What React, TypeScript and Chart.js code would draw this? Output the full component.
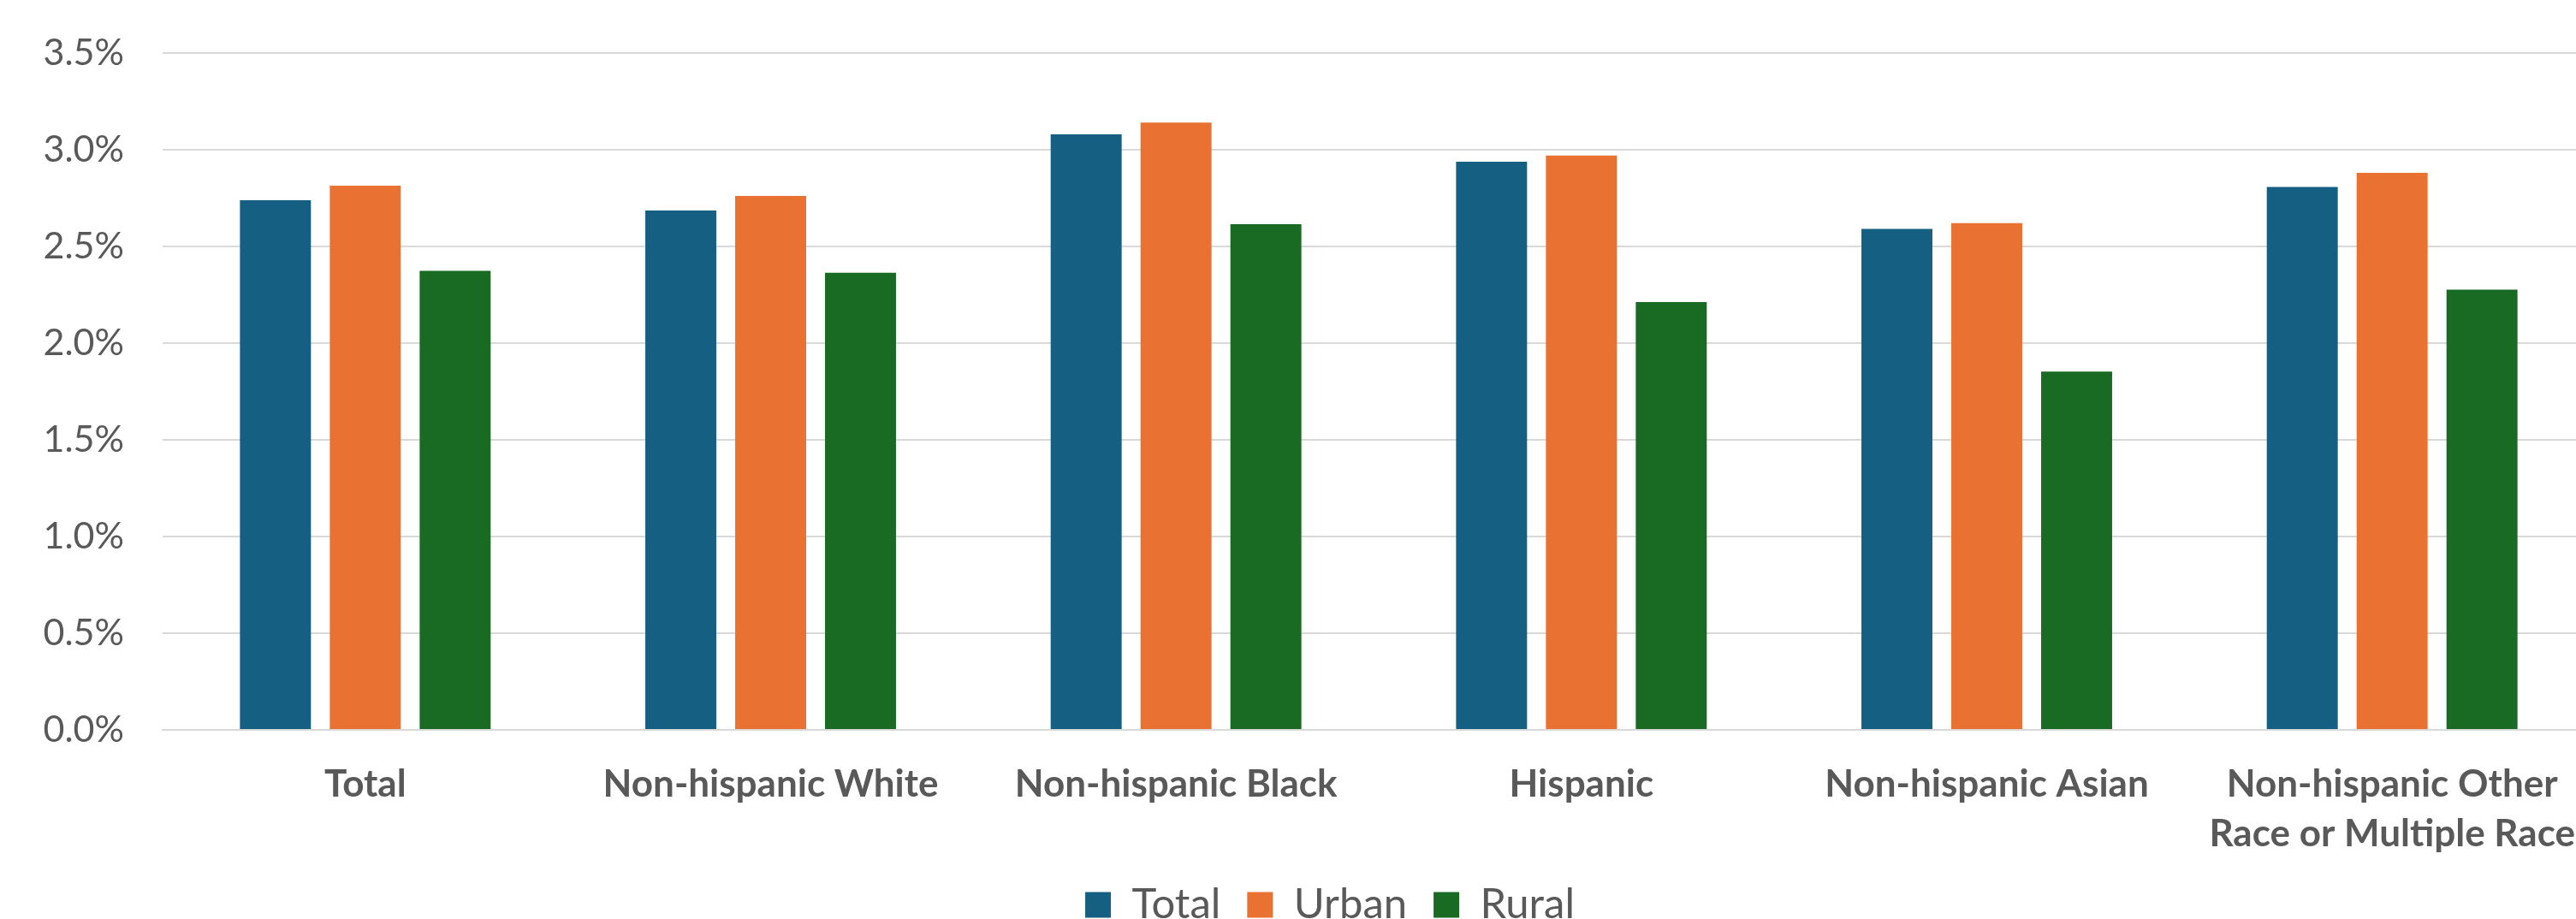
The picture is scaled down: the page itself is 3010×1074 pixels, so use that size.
import React, { useEffect, useRef } from "react";
import { Chart, registerables } from "chart.js";

Chart.register(...registerables);

const categories: (string | string[])[] = [
  "Total",
  "Non-hispanic White",
  "Non-hispanic Black",
  "Hispanic",
  "Non-hispanic Asian",
  ["Non-hispanic Other", "Race or Multiple Race"],
];

const totalValues = [2.739, 2.686, 3.08, 2.938, 2.591, 2.807];
const urbanValues = [2.814, 2.761, 3.14, 2.97, 2.621, 2.88];
const ruralValues = [2.374, 2.364, 2.615, 2.212, 1.853, 2.277];

const seriesNames = ["Total", "Urban", "Rural"];
const seriesColors = ["#156082", "#E97132", "#196B24"];

const yTickStep = 0.5;
const yMax = 3.5;

const TEXT = "#595959";
const FONT = "Lato, 'Open Sans', sans-serif";

export default function App() {
  const ref = useRef<HTMLCanvasElement | null>(null);

  useEffect(() => {
    if (!ref.current) return;
    const values = [totalValues, urbanValues, ruralValues];
    const chart = new Chart(ref.current, {
      type: "bar",
      data: {
        labels: categories,
        datasets: seriesNames.map((name, i) => ({
          label: name,
          data: values[i],
          backgroundColor: seriesColors[i],
          borderWidth: 0,
          categoryPercentage: 0.665,
          barPercentage: 0.79,
        })),
      },
      options: {
        animation: false,
        responsive: false,
        devicePixelRatio: 1,
        layout: { padding: { top: 62, right: 0, left: 0, bottom: 0 } },
        plugins: {
          tooltip: { enabled: false },
          legend: {
            position: "bottom",
            labels: {
              color: TEXT,
              font: { family: FONT, size: 49 },
              boxWidth: 30,
              boxHeight: 30,
              padding: 31,
            },
          },
        },
        scales: {
          x: {
            afterFit: (axis: any) => {
              axis.height = 149;
            },
            grid: { display: false, drawTicks: false },
            border: { display: true, color: "#D9D9D9", width: 2 },
            ticks: {
              color: TEXT,
              font: { family: FONT, size: 44, weight: "bold", lineHeight: 1.337 },
              padding: 34,
              maxRotation: 0,
              autoSkip: false,
            },
          },
          y: {
            min: 0,
            max: yMax,
            afterFit: (axis: any) => {
              axis.width = 190;
              axis.paddingTop = 0;
              axis.paddingBottom = 0;
            },
            grid: { color: "#D9D9D9", lineWidth: 2, drawTicks: false },
            border: { display: false },
            ticks: {
              stepSize: yTickStep,
              color: TEXT,
              font: { family: FONT, size: 43 },
              padding: 45,
              callback: (v: any) => Number(v).toFixed(1) + "%",
            },
          },
          yRight: {
            position: "right",
            min: 0,
            max: yMax,
            afterFit: (axis: any) => {
              axis.width = 76;
              axis.paddingTop = 0;
              axis.paddingBottom = 0;
            },
            grid: { display: false, drawTicks: false },
            border: { display: false },
            ticks: { display: false },
          },
        },
      },
    });
    return () => chart.destroy();
  }, []);

  return (
    <div
      style={{
        position: "fixed",
        left: 0,
        top: 0,
        width: 3010,
        height: 1074,
        overflow: "hidden",
        background: "#fff",
      }}
    >
      <canvas ref={ref} width={3108} height={1092} style={{ display: "block" }} />
    </div>
  );
}
